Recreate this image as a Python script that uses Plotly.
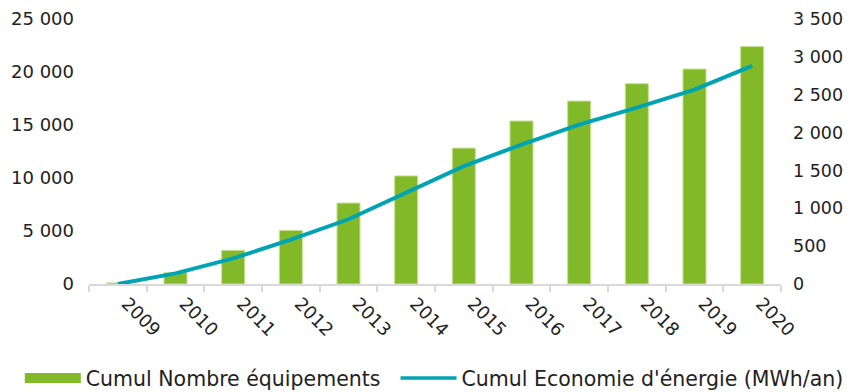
import plotly.graph_objects as go

# ── Data ──────────────────────────────────────────────────────────────────────
years = ["2009", "2010", "2011", "2012", "2013", "2014",
         "2015", "2016", "2017", "2018", "2019", "2020"]
nb_equipements = [100, 1070, 3180, 5060, 7640, 10200,
                  12820, 15380, 17260, 18900, 20280, 22400]
economie_mwh = [0, 140, 338, 585, 855, 1210,
                1557, 1842, 2105, 2330, 2566, 2882]

GREEN = "#82b929"
GREEN_EDGE = "#c8e196"
TEAL = "#00a3b4"
AXIS = "#d9d9d9"
TEXT = "#222222"
FONT = "DejaVu Sans"

# page body has an 8px margin -> figure is 8px smaller than the window
W, H = 843, 384

fig = go.Figure()

# bars – equipment count (left axis)
fig.add_trace(go.Bar(
    x=years, y=nb_equipements,
    marker=dict(color=GREEN, line=dict(color=GREEN_EDGE, width=1)),
    width=0.4,
    name="Cumul Nombre équipements",
    showlegend=False,
))

# line – energy savings (right axis)
fig.add_trace(go.Scatter(
    x=years, y=economie_mwh,
    mode="lines", yaxis="y2",
    line=dict(color=TEAL, width=4),
    name="Cumul Economie d'énergie (MWh/an)",
    showlegend=False,
))

# legend entries (wide swatches like the original), one legend each
fig.add_trace(go.Scatter(
    x=[None], y=[None], mode="lines",
    line=dict(color=GREEN, width=10),
    name="Cumul Nombre équipements",
    legend="legend",
))
fig.add_trace(go.Scatter(
    x=[None], y=[None], mode="lines",
    line=dict(color=TEAL, width=3.5),
    name="Cumul Economie d'énergie (MWh/an)",
    legend="legend2",
))

legend_style = dict(
    orientation="h",
    xref="container", yref="container",
    y=0.036, xanchor="left", yanchor="middle",
    itemwidth=56,
    font=dict(family=FONT, size=20.5, color=TEXT),
    bgcolor="rgba(0,0,0,0)",
)

fig.update_layout(
    width=W, height=H,
    margin=dict(l=81, r=70, t=11, b=108, autoexpand=False),
    paper_bgcolor="white", plot_bgcolor="white",
    separators=", ",
    font=dict(family=FONT, size=18, color=TEXT),
    xaxis=dict(
        type="category", automargin=False,
        showline=True, linecolor=AXIS, linewidth=2,
        ticks="outside", tickson="boundaries", ticklen=6,
        tickcolor=AXIS, tickwidth=2,
        tickangle=45, ticklabelshift=9,
        showgrid=False,
    ),
    yaxis=dict(
        range=[0, 25000], dtick=5000, tickformat=",d", automargin=False,
        showgrid=False, zeroline=False, showline=False,
        ticks="", ticklabelstandoff=14,
    ),
    yaxis2=dict(
        range=[0, 3500], dtick=500, tickformat=",d", automargin=False,
        overlaying="y", side="right",
        showgrid=False, zeroline=False, showline=False,
        ticks="", ticklabelstandoff=11,
        tickfont=dict(family=FONT, size=17.5, color=TEXT),
    ),
    legend=dict(legend_style, x=0.014),
    legend2=dict(legend_style, x=0.4597),
)

fig.write_html("out.html")
